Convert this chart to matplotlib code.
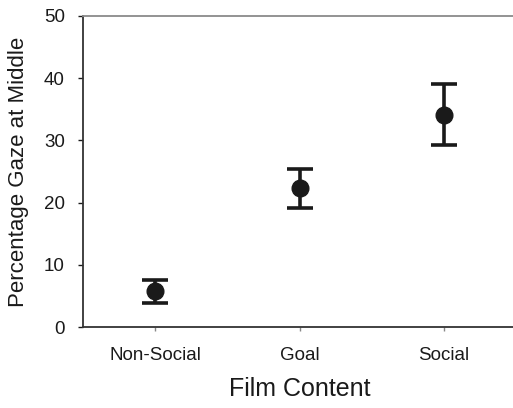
import matplotlib
matplotlib.use("Agg")
import matplotlib.pyplot as plt

# --- data ---
categories = ["Non-Social", "Goal", "Social"]
means = [5.8, 22.3, 34.1]
upper = [7.6, 25.4, 39.0]
lower = [3.9, 19.2, 29.3]

plt.rcParams.update({
    "font.family": ["Liberation Sans", "DejaVu Sans"],
    "axes.labelcolor": "#1a1a1a",
    "xtick.color": "#1a1a1a",
    "ytick.color": "#1a1a1a",
})

x = list(range(len(categories)))
yerr = [[m - l for m, l in zip(means, lower)],
        [u - m for m, u in zip(means, upper)]]

fig = plt.figure(figsize=(5.13, 4.08), dpi=100)
ax = fig.add_axes([0.1618, 0.1978, 0.8442, 0.7637])

ax.errorbar(x, means, yerr=yerr, fmt="o", color="#1a1a1a", ecolor="#1a1a1a",
            markersize=12, elinewidth=2.6, capsize=9.5, capthick=2.6)

ax.set_xlim(-0.5, 2.5)
ax.set_ylim(0, 50)
ax.set_xticks(x)
ax.set_xticklabels(categories)
ax.set_yticks([0, 10, 20, 30, 40, 50])

ax.spines["left"].set_color("#333333")
ax.spines["bottom"].set_color("#333333")
ax.spines["top"].set_color("#8a8a8a")
ax.spines["right"].set_color("#8a8a8a")
for s in ax.spines.values():
    s.set_linewidth(1.3)

ax.tick_params(axis="y", direction="out", length=3.6, width=1, pad=9.4, labelsize=13.5)
ax.tick_params(axis="x", direction="out", length=3, width=1, color="#888888",
               pad=11, labelsize=13.5)

ax.set_xlabel("Film Content", fontsize=18, labelpad=9.5)
ax.set_ylabel("Percentage Gaze at Middle", fontsize=16, labelpad=11)

fig.savefig("out.png", dpi=100, facecolor="white")
